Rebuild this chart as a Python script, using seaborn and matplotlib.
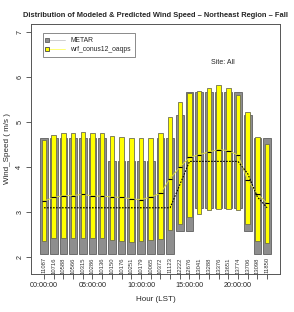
import numpy as np
import pandas as pd
import seaborn as sns
import matplotlib.pyplot as plt
from matplotlib.lines import Line2D

hours = list(range(24))
hour_labels = ['00:00:00', '05:00:00', '10:00:00', '15:00:00', '20:00:00']
counts = ['11087', '10716', '10588', '10566', '10315', '10286', '10136', '10150',
          '10176', '10251', '10179', '10065', '10372', '11123', '12222', '12676',
          '13041', '13288', '13376', '13651', '13774', '13706', '13098', '11850']

# METAR (observed) boxes
obs_low = [2.06] * 14 + [2.57, 2.57, 3.09, 3.09, 3.09, 3.09, 3.09, 2.57, 2.06, 2.06]
obs_high = [4.63] * 7 + [4.12] * 5 + [4.63, 4.63, 5.14] + [5.66] * 6 + [5.14, 4.63, 4.63]
obs_med = [3.09] * 14 + [3.60, 4.12, 4.12, 4.12, 4.12, 4.12, 4.12, 3.85, 3.33, 3.09]

# wrf_conus12_oaqps (model) boxes
mod_low = [2.35, 2.41, 2.42, 2.41, 2.43, 2.42, 2.41, 2.37, 2.36, 2.33, 2.35, 2.37,
           2.39, 2.59, 2.74, 2.89, 2.96, 3.04, 3.07, 3.07, 3.03, 2.73, 2.36, 2.30]
mod_high = [4.60, 4.70, 4.74, 4.76, 4.78, 4.76, 4.75, 4.69, 4.66, 4.64, 4.63, 4.64,
            4.74, 5.11, 5.44, 5.63, 5.69, 5.76, 5.82, 5.75, 5.59, 5.21, 4.67, 4.50]
mod_med = [3.24, 3.32, 3.36, 3.36, 3.39, 3.35, 3.35, 3.33, 3.32, 3.29, 3.27, 3.33,
           3.41, 3.74, 3.99, 4.21, 4.27, 4.33, 4.38, 4.36, 4.26, 3.70, 3.40, 3.19]

df = pd.DataFrame({'hour': hours, 'obs_low': obs_low, 'obs_high': obs_high,
                   'obs_med': obs_med, 'mod_low': mod_low, 'mod_high': mod_high,
                   'mod_med': mod_med, 'n': counts})

sns.set_style("white")
plt.rcParams['font.family'] = ['Liberation Sans', 'DejaVu Sans']

fig = plt.figure(figsize=(2.94, 3.12), dpi=100)
ax = fig.add_axes([31 / 294, 38 / 312, 249 / 294, 250 / 312])

grey_fill = '#8e8e8e'
grey_edge = '#5e5e5e'
yellow_fill = '#ffff00'
yellow_edge = '#6e6e50'

# floating boxes
ax.bar(df['hour'], df['obs_high'] - df['obs_low'], bottom=df['obs_low'], width=0.8,
       color=grey_fill, edgecolor=grey_edge, linewidth=0.6, zorder=2)
ax.bar(df['hour'], df['mod_high'] - df['mod_low'], bottom=df['mod_low'], width=0.46,
       color=yellow_fill, edgecolor=yellow_edge, linewidth=0.6, zorder=3)

# median lines connecting hours
sns.lineplot(data=df, x='hour', y='mod_med', color='#d8d840', lw=0.7, ax=ax, zorder=4)
sns.lineplot(data=df, x='hour', y='obs_med', color='black', lw=0.8, ax=ax, zorder=5,
             linestyle=(0, (1.5, 1.2)))
ax.hlines(df['mod_med'], df['hour'] - 0.23, df['hour'] + 0.23, color='black', lw=0.8, zorder=6)

# sample counts
for h, n in zip(hours, counts):
    ax.text(h, 1.99, n, rotation=90, ha='center', va='top', fontsize=4.2, color='#333333')

ax.text(0.77, 0.848, 'Site: All', transform=ax.transAxes, ha='center', va='center',
        fontsize=5)

ax.set_xlim(-1.34, 24.33)
ax.set_ylim(1.62, 7.17)
ax.set_xticks(hours)
ax.set_xticklabels([hour_labels[h // 5] if h % 5 == 0 else '' for h in hours], fontsize=5.2)
ax.set_yticks([2, 3, 4, 5, 6, 7])
ax.set_yticklabels(['2', '3', '4', '5', '6', '7'], fontsize=5.2, rotation=90, va='center')
ax.tick_params(axis='both', length=3.5, width=0.6, color='#444444', pad=2, bottom=True, left=True)

ax.set_xlabel('Hour (LST)', fontsize=5.8, labelpad=5)
ax.set_ylabel('Wind_Speed ( m/s )', fontsize=5.8, labelpad=4)
ax.set_title('Distribution of Modeled & Predicted Wind Speed \u2013 Northeast Region \u2013 Fall',
             fontsize=5.4, fontweight='bold', pad=5)

for s in ax.spines.values():
    s.set_color('#555555')
    s.set_linewidth(0.7)

legend_elements = [
    Line2D([0], [0], color='#c8c8c8', lw=0.6, marker='s', markersize=3.5,
           markerfacecolor=grey_fill, markeredgecolor=grey_edge, markeredgewidth=0.6,
           label='METAR'),
    Line2D([0], [0], color='#ffff60', lw=0.6, marker='s', markersize=3.5,
           markerfacecolor=yellow_fill, markeredgecolor='#444444', markeredgewidth=0.6,
           label='wrf_conus12_oaqps'),
]
leg = ax.legend(handles=legend_elements, loc='upper left', bbox_to_anchor=(0.048, 0.964),
                fontsize=4.9, frameon=True, fancybox=False, edgecolor='#555555',
                handlelength=2.6, handletextpad=0.8, borderpad=0.6, labelspacing=0.3,
                borderaxespad=0)
leg.get_frame().set_linewidth(0.6)
for h in leg.legend_handles:
    h.set_markevery([0])

plt.savefig('out.png', dpi=100)
